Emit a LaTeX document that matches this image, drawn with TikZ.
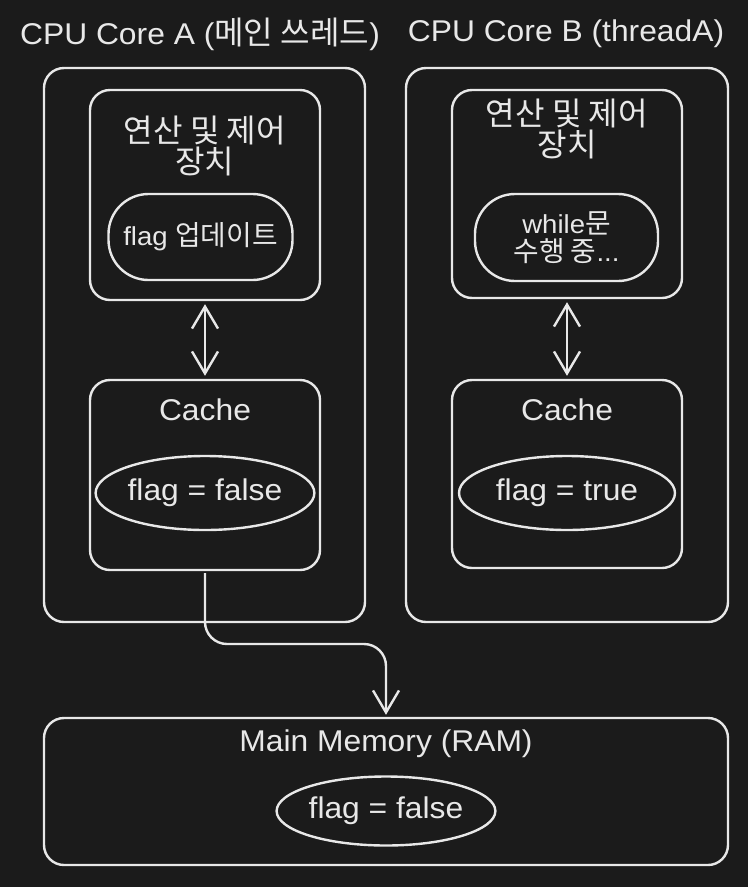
\documentclass[tikz,border=0pt]{standalone}
\usepackage{fontspec}
\setmainfont{Liberation Sans}[FakeStretch=1.06]
\newfontfamily\kr{Noto Sans CJK KR}[Scale=1.07]
\usetikzlibrary{arrows.meta,shapes.geometric}
\definecolor{bg}{HTML}{1B1B1B}
\definecolor{fg}{HTML}{E8E8E8}
\begin{document}
\begin{tikzpicture}[x=1pt,y=-1pt,
  every node/.style={text=fg},
  frame/.style={draw=fg, line width=2.4pt, rounded corners=20pt, inner sep=0pt},
  pill/.style={draw=fg, line width=2.4pt, rounded corners=40pt, inner sep=0pt},
  oval/.style={draw=fg, line width=2.4pt, ellipse, inner sep=0pt},
  big/.style={font=\fontsize{30}{31}\selectfont},
  mid/.style={font=\fontsize{26}{28}\selectfont, align=center},
  tip/.style={line width=2.4pt, draw=fg},
  barb/.tip={Straight Barb[length=22pt,width=26pt,line width=2.4pt]}
]
\fill[bg] (0,0) rectangle (748,887);
\useasboundingbox (0,0) rectangle (748,887);

% titles
\node[big] (tA) at (200,34) {CPU Core A ({\kr 메인 쓰레드})};
\node[big] (tB) at (566,34) {CPU Core B (threadA)};

% outer core frames
\node[frame, minimum width=321pt, minimum height=554pt] (coreA) at (204.5,345) {};
\node[frame, minimum width=322pt, minimum height=554pt] (coreB) at (567,345) {};

% control units
\node[frame, minimum width=230pt, minimum height=210pt] (ctrlA) at (205,195) {};
\node[frame, minimum width=230pt, minimum height=208pt] (ctrlB) at (567,194) {};
\node[big, align=center, font=\kr\fontsize{30}{31}\selectfont] (ctrlAt) at (205,146) {연산 및 제어\\장치};
\node[big, align=center, font=\kr\fontsize{30}{31}\selectfont] (ctrlBt) at (567,129) {연산 및 제어\\장치};

% pills
\node[pill, mid, minimum width=184pt, minimum height=86pt] (pA) at (200.5,237) {flag {\kr 업데이트}};
\node[pill, mid, minimum width=183pt, minimum height=87pt] (pB) at (566.5,237.5) {while{\kr 문}\\{\kr 수행 중}...};

% caches
\node[frame, minimum width=230pt, minimum height=190pt] (cacheA) at (205,475) {};
\node[frame, minimum width=230pt, minimum height=188pt] (cacheB) at (567,474) {};
\node[big] (cAt) at (205,410) {Cache};
\node[big] (cBt) at (567,410) {Cache};
\node[oval, big, minimum width=216pt, minimum height=74pt] (fA) at (205,493) {flag = false};
\node[oval, big, minimum width=216pt, minimum height=74pt] (fB) at (567,493) {flag = true};

% main memory
\node[frame, minimum width=684pt, minimum height=147pt] (ram) at (386,791.5) {};
\node[big] (ramt) at (386,744) {Main Memory (RAM)};
\node[oval, big, minimum width=217pt, minimum height=69pt] (fR) at (386,811) {flag = false};

% arrows
\draw[tip, barb-barb] ([yshift=-3pt]ctrlA.south) -- ([yshift=3pt]cacheA.north);
\draw[tip, barb-barb] ([yshift=-3pt]ctrlB.south) -- ([yshift=3pt]cacheB.north);
\coordinate (bend) at (386,644);
\draw[tip, -barb, rounded corners=22pt] ([yshift=-2pt]cacheA.south) |- (bend) -- ([yshift=2pt]ram.north);
\end{tikzpicture}
\end{document}
